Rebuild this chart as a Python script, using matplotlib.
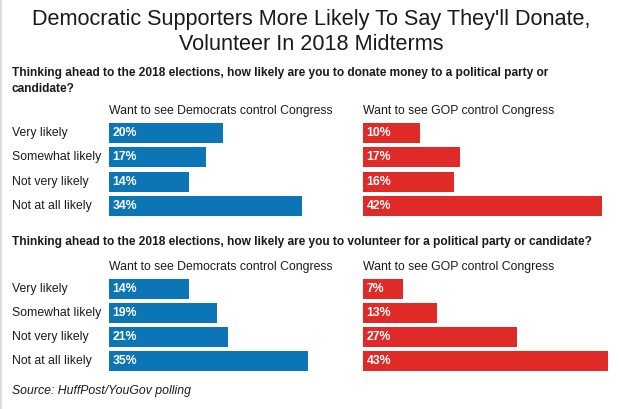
import matplotlib
matplotlib.use("Agg")
import matplotlib.pyplot as plt
from matplotlib.lines import Line2D

plt.rcParams['font.family'] = ['Liberation Sans', 'DejaVu Sans']

W, H = 619, 409

title = "Democratic Supporters More Likely To Say They'll Donate,\nVolunteer In 2018 Midterms"
questions = [
    "Thinking ahead to the 2018 elections, how likely are you to donate money to a political party or\ncandidate?",
    "Thinking ahead to the 2018 elections, how likely are you to volunteer for a political party or candidate?",
]
categories = ["Very likely", "Somewhat likely", "Not very likely", "Not at all likely"]
groups = ["Want to see Democrats control Congress", "Want to see GOP control Congress"]
donate_dem = [20, 17, 14, 34]
donate_gop = [10, 17, 16, 42]
volunteer_dem = [14, 19, 21, 35]
volunteer_gop = [7, 13, 27, 43]
source = "Source: HuffPost/YouGov polling"

blue = '#0b75b6'
red = '#df2a27'

fig = plt.figure(figsize=(W / 100, H / 100), dpi=100)
fig.patch.set_facecolor('white')

def px(x, y):
    # pixel coords (top-left origin) -> figure fraction
    return x / W, 1 - y / H

fig.add_artist(Line2D([0.8 / W, 0.8 / W], [0, 1], color='#dddddd', lw=1.5))

fig.text(*px(311, 32), title, ha='center', va='center', fontsize=15.6,
         linespacing=1.22, color='#1a1a1a')

scale = 5.69  # px per percent
ax_w = 256

panels = [
    (questions[0], 67, 111, 121, 24.3, donate_dem, donate_gop),
    (questions[1], 242, 267, 277, 24.1, volunteer_dem, volunteer_gop),
]

for q, qy, hy, top, step, dem, gop in panels:
    fig.text(*px(12, qy), q, ha='left', va='top' if '\n' in q else 'center',
             fontsize=8.6, fontweight='bold', color='#1a1a1a', linespacing=1.5)
    bottom = top + step * len(categories)
    for x0, vals, color, grp in [(109, dem, blue, groups[0]), (363, gop, red, groups[1])]:
        l, b = px(x0, bottom)
        ax = fig.add_axes([l, b, ax_w / W, (bottom - top) / H])
        ax.barh(range(len(categories)), vals, height=0.82, color=color)
        ax.set_xlim(0, ax_w / scale)
        ax.set_ylim(len(categories) - 0.5, -0.5)
        ax.axis('off')
        for i, v in enumerate(vals):
            ax.text(0.6, i, f"{v}%", ha='left', va='center', color='white',
                    fontsize=8.8, fontweight='bold')
        fig.text(*px(x0, hy), grp, ha='left', va='center', fontsize=8.8, color='#1a1a1a')
    for i, c in enumerate(categories):
        fig.text(*px(12, top + step * (i + 0.5)), c, ha='left', va='center',
                 fontsize=8.8, color='#1a1a1a')

fig.text(*px(12, 391), source, ha='left', va='center', fontsize=8.8,
         style='italic', color='#1a1a1a')

fig.savefig('out.png', dpi=100)
